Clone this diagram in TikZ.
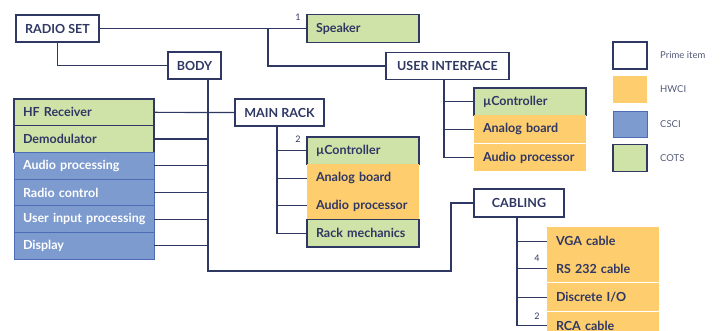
\documentclass[tikz,border=0pt]{standalone}
\usepackage{fontspec}
\setmainfont{Lato}
\usepackage{tikz}
\usepackage{xcolor}
\usetikzlibrary{calc}
\usetikzlibrary{positioning}

\definecolor{navy}{HTML}{2F3763}
\definecolor{cotsc}{HTML}{CFE2A8}
\definecolor{hwcic}{HTML}{FDCD6E}
\definecolor{cscic}{HTML}{7D9BCE}
\definecolor{cscib}{HTML}{4C6DB5}
\definecolor{legtxt}{HTML}{545A78}

\tikzset{
  prime/.style={draw=navy, line width=1.1pt, fill=white, text=navy, font=\fontsize{12.5}{14}\selectfont\bfseries, minimum height=27pt, inner xsep=4pt, outer sep=0pt},
  item/.style={minimum height=27.5pt, text width=94pt, inner xsep=9pt, inner ysep=0pt, outer sep=0pt, align=left, text=navy, font=\fontsize{12.5}{14}\selectfont\bfseries},
  cots/.style={item, fill=cotsc, draw=navy, line width=1.1pt},
  hwci/.style={item, fill=hwcic},
  csci/.style={item, fill=cscic, draw=cscib, line width=0.8pt, text=white},
  wide/.style={text width=126pt, inner xsep=7pt, minimum height=26.7pt},
  link/.style={navy, line width=1.2pt},
  mult/.style={text=navy, font=\fontsize{9}{10}\selectfont, inner sep=0pt},
  legend/.style={text=legtxt, font=\fontsize{9.5}{11}\selectfont, inner sep=0pt, anchor=west}
}

\begin{document}
\begin{tikzpicture}[x=1pt,y=1pt]
\useasboundingbox (0,0) rectangle (721,331);

\node[prime, minimum width=83pt] (radio) at (57.5,302.5) {RADIO SET};
\node[cots, anchor=west] (speaker) at (307,302.5) {Speaker};
\node[prime, minimum width=53pt] (body) at (194.5,265.5) {BODY};
\node[prime, minimum width=123pt] (ui) at (447.5,265) {USER INTERFACE};
\node[prime, minimum width=89pt] (mainrack) at (279.5,218.5) {MAIN RACK};
\node[prime, minimum width=90pt, minimum height=28pt] (cabling) at (519,128) {CABLING};

\node[cots, wide, anchor=north west] (hf) at (14,232) {\hspace*{2pt}HF Receiver};
\node[cots, wide, below=0pt of hf] (demod) {\hspace*{2pt}Demodulator};
\node[csci, wide, below=0pt of demod] (audioproc) {\hspace*{2pt}Audio processing};
\node[csci, wide, below=0pt of audioproc] (radioctl) {\hspace*{2pt}Radio control};
\node[csci, wide, below=0pt of radioctl] (userinput) {\hspace*{2pt}User input processing};
\node[csci, wide, below=0pt of userinput] (display) {\hspace*{2pt}Display};

\node[cots, anchor=north west] (rackmuc) at (307,194) {µController};
\node[hwci, below=0pt of rackmuc] (rackanalog) {Analog board};
\node[hwci, below=0pt of rackanalog] (rackaudio) {Audio processor};
\node[cots, below=0pt of rackaudio] (rackmech) {Rack mechanics};

\node[cots, anchor=north west] (uimuc) at (474,243) {µController};
\node[hwci, below=0pt of uimuc] (uianalog) {Analog board};
\node[hwci, below=1pt of uianalog] (uiaudio) {Audio processor};

\node[hwci, anchor=north west] (vga) at (547,103.5) {VGA cable};
\node[hwci, below=0pt of vga] (rs232) {RS 232 cable};
\node[hwci, below=1pt of rs232] (discrete) {Discrete I/O};
\node[hwci, below=1pt of discrete] (rca) {RCA cable};

\coordinate (rsplit) at (268,302.5);
\coordinate (bspine) at (208,60);
\coordinate (cturn) at (451,60);

\draw[link] (radio.east) -- (speaker.west);
\draw[link] (rsplit) |- (ui.west);
\draw[link] (radio.south) |- (body.west);
\draw[link] (bspine |- body.south) -- (bspine) -- (cturn) |- (cabling.west);
\draw[link] (hf.east) -- (mainrack.west);
\foreach \n in {demod,audioproc,radioctl,userinput,display}
{
	\draw[link] (\n.east) -- (\n.east -| bspine);
}
\draw[link] ([xshift=-2.5pt]mainrack.south) |- (rackmech.west);
\foreach \n in {rackmuc,rackanalog,rackaudio}
{
	\draw[link] ([xshift=-2.5pt]mainrack.south |- \n.west) -- (\n.west);
}
\draw[link] ([xshift=-3.5pt]ui.south) |- (uiaudio.west);
\foreach \n in {uimuc,uianalog}
{
	\draw[link] ([xshift=-3.5pt]ui.south |- \n.west) -- (\n.west);
}
\draw[link] ([xshift=-2pt]cabling.south) |- (rca.west);
\foreach \n in {vga,rs232,discrete}
{
	\draw[link] ([xshift=-2pt]cabling.south |- \n.west) -- (\n.west);
}

\node[mult] (m1) at ([shift={(-9,11.5)}]speaker.west) {1};
\node[mult] (m2) at ([shift={(-9,12)}]rackmuc.west) {2};
\node[mult] (m4) at ([shift={(-10,10)}]rs232.west) {4};
\node[mult] (m2b) at ([shift={(-10,10)}]rca.west) {2};

\node[prime, minimum width=34pt, minimum height=27pt] (legprime) at (630,275.5) {};
\node[fill=hwcic, minimum width=34pt, minimum height=27pt] (leghwci) at (630,241.5) {};
\node[fill=cscic, draw=cscib, line width=0.8pt, minimum width=34pt, minimum height=26pt] (legcsci) at (630,207) {};
\node[fill=cotsc, draw=navy, line width=1.1pt, minimum width=34pt, minimum height=27pt] (legcots) at (630,173) {};
\node[legend] (tprime) at (660,275.5) {Prime item};
\node[legend] (thwci) at (660,241.5) {HWCI};
\node[legend] (tcsci) at (660,207) {CSCI};
\node[legend] (tcots) at (660,173) {COTS};
\end{tikzpicture}
\end{document}
